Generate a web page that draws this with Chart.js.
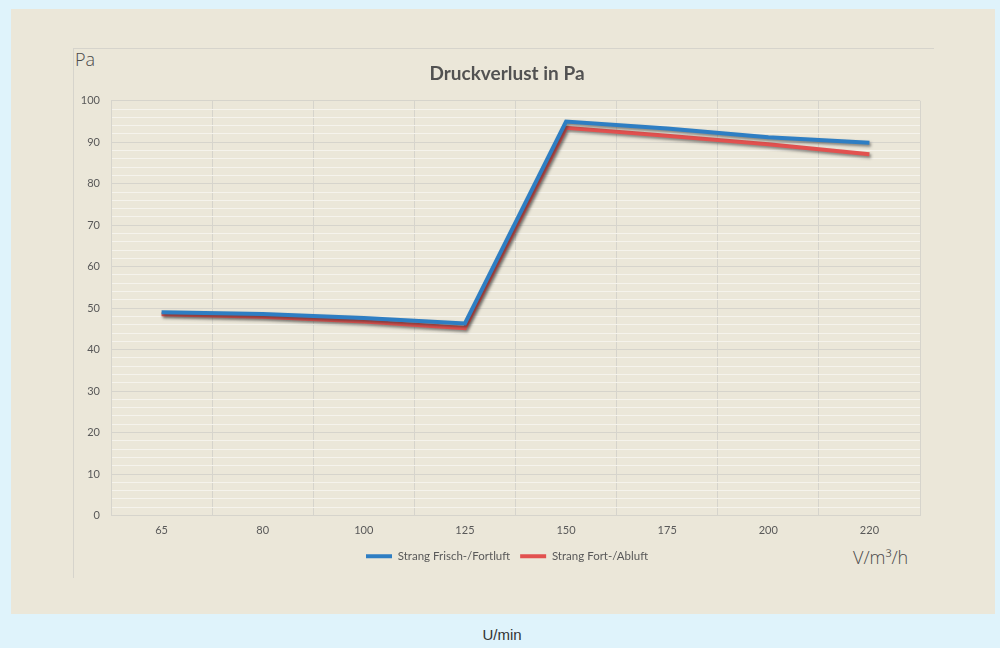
<!DOCTYPE html>
<html>
<head>
<meta charset="utf-8">
<script src="https://cdn.jsdelivr.net/npm/chart.js@4"></script>
<style>
    body { margin: 0; background: #dff3fb; width: 1000px; height: 648px; overflow: hidden; position: relative; }
    #panel { position: absolute; left: 11px; top: 9px; width: 984px; height: 605px; background: #ebe7d9; }
    #frame { position: absolute; left: 73px; top: 48px; width: 860px; height: 529px; border-top: 1px solid #d6d4cc; border-left: 1px solid #d6d4cc; }
    #diagram { position: absolute; left: 0; top: 0; }
    .lbl { position: absolute; font-family: "Open Sans", sans-serif; font-weight: 300; color: #4a4a4a; font-size: 18px; white-space: nowrap; }
    #unitX2 { position: absolute; left: 0; width: 1004px; top: 626px; text-align: center; font-family: "Liberation Sans", Arial, sans-serif; font-size: 15px; color: #333; }
</style>
</head>
<body>
<div id="panel"></div>
<div id="frame"></div>
<div class="lbl" style="left:75px; top:47px;">Pa</div>
<div class="lbl" style="left:853px; top:545px;">V/m³/h</div>
<div id="unitX2">U/min</div>
<canvas id="diagram" width="1000" height="648"></canvas>

<script type="text/javascript">
    var categories = ['65', '80', '100', '125', '150', '175', '200', '220'];
    var frischFortluft = [49.0, 48.6, 47.6, 46.3, 95.0, 93.3, 91.2, 89.9];
    var fortAbluft = [48.5, 47.9, 46.8, 45.2, 93.5, 91.6, 89.5, 87.1];
    var yTicksMajor = [0, 10, 20, 30, 40, 50, 60, 70, 80, 90, 100];

    var gridColour = '#d6d4cc';
    var minorColour = '#f5f3ec';

    // soft drop shadow under the lines, like the office chart
    var lineShadow = {
        id: 'lineShadow',
        beforeDatasetDraw: function(chart) {
            var ctx = chart.ctx;
            ctx.save();
            ctx.shadowColor = 'rgba(40, 40, 40, 0.55)';
            ctx.shadowBlur = 3;
            ctx.shadowOffsetX = 1.5;
            ctx.shadowOffsetY = 2;
        },
        afterDatasetDraw: function(chart) {
            chart.ctx.restore();
        }
    };

    Chart.defaults.font.family = 'Lato, "Open Sans", sans-serif';

    var myLineChart = new Chart(document.getElementById('diagram'), {
        type: 'line',
        data: {
            labels: categories,
            datasets: [
                {
                    label: 'Strang Frisch-/Fortluft',
                    data: frischFortluft,
                    borderColor: '#2e7ec3',
                    backgroundColor: '#2e7ec3',
                    borderWidth: 4
                },
                {
                    label: 'Strang Fort-/Abluft',
                    data: fortAbluft,
                    borderColor: '#e2514f',
                    backgroundColor: '#e2514f',
                    borderWidth: 4
                }
            ]
        },
        options: {
            responsive: false,
            animation: false,
            elements: {
                point: { radius: 0, hoverRadius: 0 },
                line: { tension: 0, borderCapStyle: 'butt', borderJoinStyle: 'miter' }
            },
            layout: {
                padding: { left: 60, right: 46, top: 62, bottom: 76 }
            },
            scales: {
                x: {
                    offset: true,
                    grid: { color: gridColour, offset: true, drawTicks: false },
                    border: { color: gridColour },
                    ticks: { color: '#595959', font: { size: 11 }, padding: 8, maxRotation: 0 },
                    afterFit: function(scale) { scale.height = 25; }
                },
                y: {
                    min: 0,
                    max: 100,
                    z: -1,
                    grid: {
                        drawTicks: false,
                        color: function(c) {
                            return yTicksMajor.indexOf(c.tick.value) >= 0 ? gridColour : minorColour;
                        }
                    },
                    border: { color: gridColour },
                    ticks: {
                        stepSize: 2,
                        autoSkip: false,
                        color: '#595959',
                        font: { size: 11 },
                        padding: 11,
                        callback: function(v) {
                            return yTicksMajor.indexOf(v) >= 0 ? v : '';
                        }
                    },
                    afterFit: function(scale) { scale.width = 51; }
                },
                // empty spacer on the right so title and legend sit where the original has them
                spacer: {
                    type: 'linear',
                    position: 'right',
                    grid: { display: false },
                    border: { display: false },
                    ticks: { display: false },
                    afterFit: function(scale) { scale.width = 34; }
                }
            },
            plugins: {
                title: {
                    display: true,
                    text: 'Druckverlust in Pa',
                    color: '#525252',
                    font: { size: 19, weight: 'bold' },
                    padding: { top: 0, bottom: 16 }
                },
                legend: {
                    position: 'bottom',
                    labels: {
                        usePointStyle: true,
                        pointStyle: 'line',
                        pointStyleWidth: 26,
                        color: '#595959',
                        font: { size: 11.5 },
                        padding: 10
                    }
                },
                tooltip: { enabled: false }
            }
        },
        plugins: [lineShadow]
    });
</script>
</body>
</html>
